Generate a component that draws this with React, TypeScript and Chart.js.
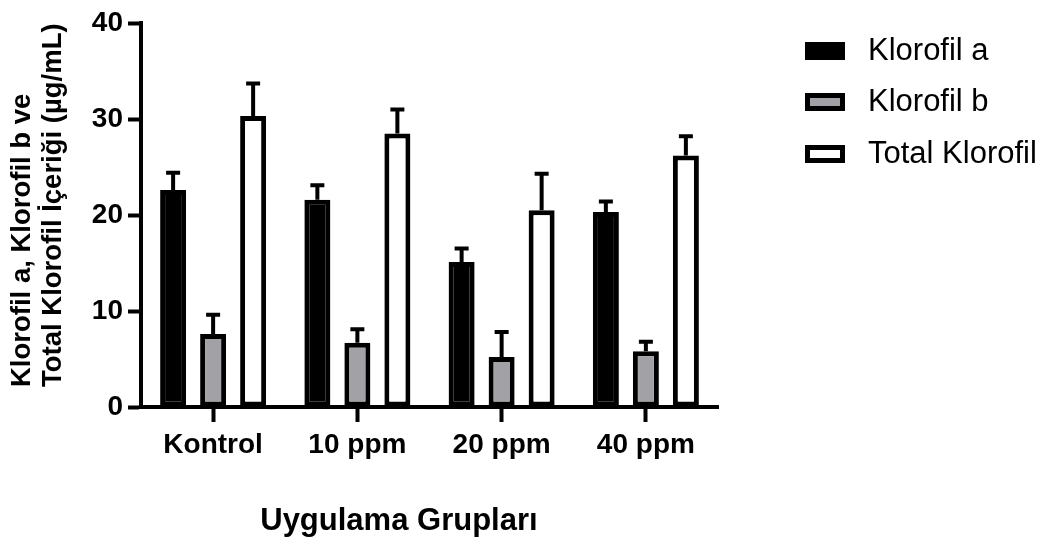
import React, { useEffect, useRef } from "react";
import { Chart, registerables } from "chart.js";

Chart.register(...registerables);

const categories = ["Kontrol", "10 ppm", "20 ppm", "40 ppm"];
const seriesNames = ["Klorofil a", "Klorofil b", "Total Klorofil"];
const klorofilA = [22.6, 21.6, 15.1, 20.3];
const klorofilAErr = [1.8, 1.5, 1.4, 1.1];
const klorofilB = [7.6, 6.7, 5.2, 5.8];
const klorofilBErr = [2.0, 1.4, 2.6, 1.0];
const totalKlorofil = [30.3, 28.5, 20.5, 26.2];
const totalKlorofilErr = [3.4, 2.5, 3.8, 2.0];
const yMin = 0;
const yMax = 40;
const yStep = 10;
const yTitleLines = ["Klorofil a, Klorofil b ve", "Total Klorofil İçeriği (µg/mL)"];
const xTitle = "Uygulama Grupları";

const FONT = "'Liberation Sans', Arial, Helvetica, sans-serif";

const errorBarPlugin = {
  id: "errorBars",
  afterDatasetsDraw(chart: any) {
    const ctx = chart.ctx;
    const yScale = chart.scales.y;
    chart.data.datasets.forEach((ds: any, i: number) => {
      const meta = chart.getDatasetMeta(i);
      meta.data.forEach((el: any, j: number) => {
        const v = ds.data[j];
        const e = ds.errors[j];
        const top = yScale.getPixelForValue(v + e);
        ctx.save();
        ctx.strokeStyle = "#000";
        ctx.lineWidth = 4;
        ctx.beginPath();
        ctx.moveTo(el.x, el.y);
        ctx.lineTo(el.x, top);
        ctx.moveTo(el.x - 7, top);
        ctx.lineTo(el.x + 7, top);
        ctx.stroke();
        ctx.restore();
      });
    });
  },
};

const titlesPlugin = {
  id: "customTitles",
  afterDraw(chart: any) {
    const ctx = chart.ctx;
    const area = chart.chartArea;
    // Y title (two lines, rotated, left-aligned from bottom)
    ctx.save();
    ctx.fillStyle = "#000";
    ctx.font = `bold 27.5px ${FONT}`;
    ctx.textBaseline = "middle";
    ctx.textAlign = "left";
    const startY = area.bottom - 20;
    const lineX = [22, 53];
    yTitleLines.forEach((line, i) => {
      ctx.save();
      ctx.translate(lineX[i], startY);
      ctx.rotate(-Math.PI / 2);
      ctx.fillText(line, 0, 0);
      ctx.restore();
    });
    ctx.restore();

    // X title
    ctx.save();
    ctx.fillStyle = "#000";
    ctx.font = `bold 31px ${FONT}`;
    ctx.textBaseline = "middle";
    ctx.textAlign = "center";
    ctx.fillText(xTitle, area.left + (area.right - area.left) * 0.447, area.bottom + 114);
    ctx.restore();

    // Legend
    const legendX = area.right + 87;
    const rowY = [area.top + 28, area.top + 79, area.top + 131];
    chart.data.datasets.forEach((ds: any, i: number) => {
      const cy = rowY[i];
      const bw = 40;
      const bh = 18;
      const bx = legendX;
      const by = cy - bh / 2;
      ctx.save();
      ctx.fillStyle = "#000";
      ctx.fillRect(bx, by, bw, bh);
      ctx.fillStyle = ds.backgroundColor;
      const b = 5;
      ctx.fillRect(bx + b, by + b, bw - 2 * b, bh - 2 * b);
      ctx.fillStyle = "#000";
      ctx.font = `31px ${FONT}`;
      ctx.textBaseline = "middle";
      ctx.textAlign = "left";
      ctx.fillText(ds.label, bx + 63, cy);
      ctx.restore();
    });
  },
};

export default function App() {
  const canvasRef = useRef<HTMLCanvasElement | null>(null);

  useEffect(() => {
    document.body.style.margin = "0";
    const canvas = canvasRef.current;
    if (!canvas) return;
    const chart = new Chart(canvas, {
      type: "bar",
      data: {
        labels: categories,
        datasets: [
          {
            label: seriesNames[0],
            data: klorofilA,
            errors: klorofilAErr,
            backgroundColor: "#000000",
            borderColor: "#000000",
            borderWidth: 5,
            borderSkipped: false,
          } as any,
          {
            label: seriesNames[1],
            data: klorofilB,
            errors: klorofilBErr,
            backgroundColor: "#a1a1a6",
            borderColor: "#000000",
            borderWidth: 5,
            borderSkipped: false,
          } as any,
          {
            label: seriesNames[2],
            data: totalKlorofil,
            errors: totalKlorofilErr,
            backgroundColor: "#ffffff",
            borderColor: "#000000",
            borderWidth: 5,
            borderSkipped: false,
          } as any,
        ],
      },
      options: {
        animation: false,
        responsive: true,
        maintainAspectRatio: false,
        layout: { padding: { top: 23, right: 329, bottom: 0, left: 0 } },
        datasets: {
          bar: { categoryPercentage: 0.832, barPercentage: 0.65 },
        },
        plugins: {
          legend: { display: false },
          tooltip: { enabled: false },
          title: { display: false },
        },
        scales: {
          x: {
            type: "category",
            offset: true,
            grid: {
              offset: false,
              drawOnChartArea: false,
              drawTicks: true,
              tickLength: 15,
              tickWidth: 4,
              tickColor: "#000",
            },
            border: { display: true, color: "#000", width: 4 },
            ticks: {
              color: "#000",
              font: { family: FONT, size: 28, weight: "bold" },
              padding: 6,
              maxRotation: 0,
              autoSkip: false,
            },
            afterFit: (scale: any) => {
              scale.height = 134;
            },
          },
          y: {
            min: yMin,
            max: yMax,
            grid: {
              drawOnChartArea: false,
              drawTicks: true,
              tickLength: 13,
              tickWidth: 4,
              tickColor: "#000",
            },
            border: { display: true, color: "#000", width: 4 },
            ticks: {
              stepSize: yStep,
              color: "#000",
              font: { family: FONT, size: 28, weight: "bold" },
              padding: 5,
            },
            afterFit: (scale: any) => {
              scale.width = 141;
            },
          },
        },
      } as any,
      plugins: [errorBarPlugin, titlesPlugin],
    });
    return () => chart.destroy();
  }, []);

  return (
    <div style={{ position: "relative", width: 1047, height: 541 }}>
      <canvas ref={canvasRef} />
    </div>
  );
}
